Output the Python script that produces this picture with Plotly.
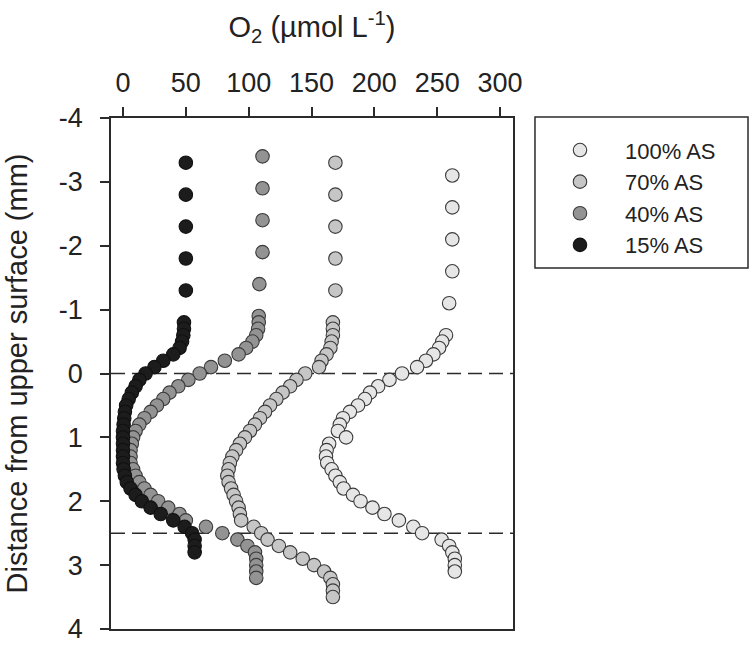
import plotly.graph_objects as go

# ---------------- data ----------------
series_names = ["100% AS", "70% AS", "40% AS", "15% AS"]

# 100% AS
depth_100 = [-3.1, -2.6, -2.1, -1.6, -1.1,
             -0.6, -0.5, -0.4, -0.3, -0.2, -0.1, 0.0, 0.1, 0.2, 0.3, 0.4, 0.5, 0.6, 0.7, 0.8, 0.9,
             1.0, 1.1, 1.2, 1.3, 1.4, 1.5, 1.6, 1.7, 1.8, 1.9, 2.0, 2.1, 2.2, 2.3, 2.4, 2.5,
             2.6, 2.7, 2.8, 2.9, 3.0, 3.1]
o2_100 = [262, 262, 262, 262, 259.5,
          257, 254, 251.5, 247, 241, 234, 222, 212, 203, 196.5, 192.5, 187, 180.5, 175, 172.5, 171,
          177.5, 164, 162, 161.5, 162.5, 166, 169, 172.5, 175.5, 183, 189, 198.5, 208, 219.5, 231, 238,
          253.5, 259.5, 262, 264, 264, 264]

# 70% AS
depth_70 = [-3.3, -2.8, -2.3, -1.8, -1.3,
            -0.8, -0.7, -0.6, -0.5, -0.4, -0.3, -0.2, -0.1, 0.0, 0.1, 0.2, 0.3, 0.4, 0.5, 0.6, 0.7,
            0.8, 0.9, 1.0, 1.1, 1.2, 1.3, 1.4, 1.5, 1.6, 1.7, 1.8, 1.9, 2.0, 2.1, 2.2, 2.3, 2.4,
            2.5, 2.6, 2.7, 2.8, 2.9, 3.0, 3.1, 3.2, 3.3, 3.4, 3.5]
o2_70 = [169, 169, 169, 169, 169,
         167, 167, 167, 166, 165, 162, 158, 156, 145, 138, 133, 127, 122, 117, 113, 109,
         105, 101, 97, 93, 90, 87, 85, 84, 83, 84, 86, 88, 90, 92, 93, 94, 104,
         110, 115, 124, 133, 143, 152, 160, 165, 167, 167, 167]

# 40% AS
depth_40 = [-3.4, -2.9, -2.4, -1.9, -1.4,
            -0.9, -0.8, -0.7, -0.6, -0.5, -0.4, -0.3, -0.2, -0.1, 0.0, 0.1, 0.2, 0.3, 0.4, 0.5,
            0.6, 0.7, 0.8, 0.9, 1.0, 1.1, 1.2, 1.3, 1.4, 1.5, 1.6, 1.7, 1.8, 1.9, 2.0, 2.1,
            2.2, 2.3, 2.4, 2.5, 2.6, 2.7, 2.8, 2.9, 3.0, 3.1, 3.2]
o2_40 = [111, 111, 111, 111, 108.5,
         108, 108, 107.5, 106, 103, 98, 92, 81, 70, 61, 52, 44, 37, 32, 27,
         22, 17, 13, 10, 8, 7, 6, 6, 6, 8, 10, 13, 17, 22, 28, 36,
         45, 50, 66, 79, 91, 99, 105, 106, 106, 106, 106]

# 15% AS
depth_15 = [-3.3, -2.8, -2.3, -1.8, -1.3,
            -0.8, -0.7, -0.6, -0.5, -0.4, -0.3, -0.2, -0.1, 0.0, 0.1, 0.2, 0.3, 0.4, 0.5, 0.6,
            0.7, 0.8, 0.9, 1.0, 1.1, 1.2, 1.3, 1.4, 1.5, 1.6, 1.7, 1.8, 1.9, 2.0, 2.1, 2.2,
            2.3, 2.4, 2.5, 2.6, 2.7, 2.8]
o2_15 = [50, 50, 50, 50, 50,
         48.5, 48.5, 48, 47, 45, 40, 32, 25, 18, 13, 10, 7, 4.5, 2.5, 1.5,
         1, 0.5, 0, 0, 0, 0, 0, 0, 0.5, 1.5, 3, 6, 10, 15, 22, 30,
         40, 49, 55, 57, 57, 57]

boundary_depths = [0, 2.5]

x_tickvals = [0, 50, 100, 150, 200, 250, 300]
x_ticktext = ["0", "50", "100", "150", "200", "250", "300"]
y_tickvals = [-4, -3, -2, -1, 0, 1, 2, 3, 4]
y_ticktext = ["-4", "-3", "-2", "-1", "0", "1", "2", "3", "4"]

# ---------------- styling ----------------
fills = ["#e6e6e6", "#c6c6c6", "#939393", "#1c1c1c"]
edges = ["#3a3a3a", "#3a3a3a", "#3a3a3a", "#111111"]
FONT = "Arial, Liberation Sans, Helvetica, sans-serif"
INK = "#2b2b2b"
TXT = "#222222"

fig = go.Figure()
data = [(o2_100, depth_100), (o2_70, depth_70), (o2_40, depth_40), (o2_15, depth_15)]
for name, (xs, ys), fc, ec in zip(series_names, data, fills, edges):
    fig.add_trace(go.Scatter(
        x=xs, y=ys, mode="markers", name=name,
        marker=dict(size=13.5, color=fc, line=dict(color=ec, width=1.1)),
    ))

for d in boundary_depths:
    fig.add_shape(type="line", xref="paper", x0=0, x1=1, yref="y", y0=d, y1=d,
                  line=dict(color=INK, width=1.6, dash="14px,7px"), layer="below")

# legend frame
fig.add_shape(type="rect", xref="paper", yref="paper",
              x0=1.0547, x1=1.5846, y0=0.7065, y1=1.002,
              line=dict(color=INK, width=1.5))

fig.update_layout(
    width=754, height=645,
    margin=dict(l=111, r=241, t=118, b=16, autoexpand=False),
    paper_bgcolor="white", plot_bgcolor="white",
    font=dict(family=FONT, color=TXT),
    showlegend=True,
    legend=dict(x=1.0547, y=0.978, xanchor="left", yanchor="top",
                bgcolor="rgba(0,0,0,0)", borderwidth=0,
                font=dict(size=22, family=FONT, color=TXT),
                itemwidth=80, tracegroupgap=0),
    xaxis=dict(
        side="top", range=[-9.55, 310.3],
        tickvals=x_tickvals, ticktext=x_ticktext,
        ticks="outside", ticklen=9, tickwidth=1.5, tickcolor=INK,
        showline=True, linecolor=INK, linewidth=1.5, mirror=True,
        showgrid=False, zeroline=False,
        tickfont=dict(size=27, family=FONT, color=TXT),
        ticklabelstandoff=4,
        title=dict(text="O<sub>2</sub> (µmol L<sup>-1</sup>)",
                   font=dict(size=29, family=FONT, color=TXT), standoff=22),
    ),
    yaxis=dict(
        range=[4, -4],
        tickvals=y_tickvals, ticktext=y_ticktext,
        ticks="outside", ticklen=9, tickwidth=1.5, tickcolor=INK,
        showline=True, linecolor=INK, linewidth=1.5, mirror=True,
        showgrid=False, zeroline=False,
        tickfont=dict(size=27, family=FONT, color=TXT),
        ticklabelstandoff=12,
        title=dict(text="Distance from upper surface (mm)",
                   font=dict(size=29, family=FONT, color=TXT), standoff=23),
    ),
)

fig.write_html("out.html", config={"displayModeBar": False},
               post_script="document.body.style.margin='0';")
